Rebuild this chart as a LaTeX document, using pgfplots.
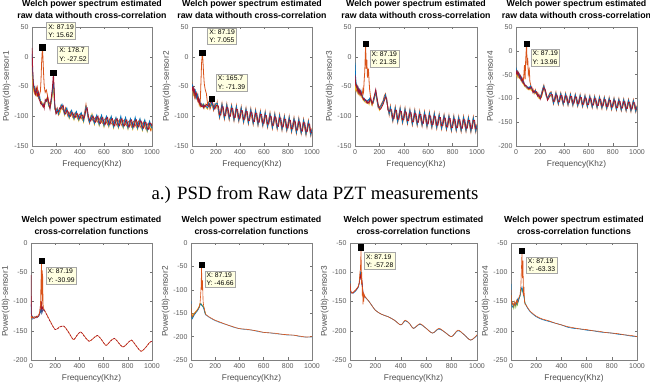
\documentclass[border=0pt]{standalone}
\usepackage{fontspec}
\setmainfont{Liberation Sans}
\newfontfamily\seriffont{Liberation Serif}
\usepackage{pgfplots}
\usepackage{pgfplotstable}
\pgfplotsset{compat=1.18}
\definecolor{mblue}{HTML}{0072BD}
\definecolor{morange}{HTML}{D95319}
\definecolor{myellow}{HTML}{EDB120}
\definecolor{mpurple}{HTML}{7E2F8E}
\definecolor{mgreen}{HTML}{77AC30}
\definecolor{mcyan}{HTML}{4DBEEE}
\definecolor{mdred}{HTML}{A2142F}
\definecolor{tipfill}{RGB}{255,255,225}
\tikzset{tip/.style={draw=black!35, fill=tipfill, font=\fontsize{6.8}{8.2}\selectfont, align=left, inner sep=1.8pt, anchor=north west},
 dmark/.style={only marks, mark=square*, mark size=2.6pt, black}}
\pgfplotsset{
 mat/.style={scale only axis, xmin=0, xmax=1000, xtick={0,200,...,1000},
  tick align=inside, major tick length=2.5pt,
  axis line style={black!50, line width=0.5pt}, tick style={black!55, line width=0.4pt},
  every tick label/.append style={font=\fontsize{7}{8}\selectfont, text=black!65},
  xlabel={Frequency(Khz)},
  label style={font=\fontsize{8.3}{9}\selectfont, text=black!70},
  xlabel style={yshift=1pt}, ylabel style={yshift=-3pt},
  title style={font=\bfseries\fontsize{8.8}{12}\selectfont, align=center, text=black, yshift=-1pt},
  /pgf/number format/assume math mode=true, /pgf/number format/set thousands separator={}, scaled ticks=false,
  clip mode=individual, every axis plot/.append style={line width=0.6pt}},
 toprow/.style={every axis plot/.append style={line width=0.8pt}},
}
\pgfplotstableread{
x b r o y
0 5 15 -5 -20
5 -25 -15 -30 -40
10 -40 -42 -48 -50
15 -48 -52 -55 -58
20 -52 -56 -60 -62
25 -58 -62 -54 -60
30 -60 -64 -60 -55
35 -55 -52 -58 -64
40 -58 -56 -62 -66
45 -62 -66 -52 -60
50 -60 -64 -58 -62
55 -66 -60 -64 -70
60 -70 -72 -66 -68
65 -68 -74 -62 -72
70 -75 -78 -58 -72
75 -78 -76 -40 -80
80 -78 -80 -10 -76
87.19 -80 -82 15.62 -78
92 -82 -84 -5 -80
97 -84 -80 -30 -83
102 -82 -86 -50 -84
110 -76 -72 -60 -78
120 -72 -75 -56 -70
130 -72 -68 -66 -74
140 -82 -78 -76 -84
150 -86 -88 -80 -86
160 -75 -70 -72 -78
170 -58 -52 -60 -64
178.7 -40 -27.52 -45 -50
185 -62 -56 -66 -70
190 -86 -80 -88 -86
200 -94 -96 -90 -95
210 -88 -92 -86 -94
220 -96 -92 -98 -90
230 -90 -86 -94 -96
240 -84 -88 -82 -90
250 -80 -84 -86 -82
260 -88 -82 -90 -86
270 -96 -94 -92 -98
280 -90 -96 -86 -92
290 -86 -90 -94 -88
300 -96 -92 -100 -94
310 -102 -98 -96 -104
320 -94 -100 -92 -98
330 -90 -94 -98 -92
340 -98 -94 -102 -100
350 -104 -100 -98 -106
360 -96 -102 -94 -100
370 -92 -96 -100 -94
380 -100 -96 -104 -102
390 -106 -102 -98 -108
400 -98 -104 -96 -102
410 -94 -98 -102 -96
420 -102 -98 -106 -104
430 -108 -104 -100 -110
440 -96 -100 -92 -98
450 -84 -88 -80 -86
460 -92 -86 -94 -90
470 -104 -100 -106 -102
480 -110 -106 -112 -108
490 -102 -108 -100 -106
500 -98 -102 -104 -96
510 -106 -100 -108 -104
520 -112 -108 -104 -114
530 -104 -110 -102 -106
540 -98 -102 -108 -100
550 -106 -100 -110 -108
560 -114 -110 -106 -116
570 -104 -112 -102 -108
580 -98 -104 -110 -100
590 -108 -102 -112 -110
600 -116 -112 -106 -118
610 -106 -114 -104 -110
620 -100 -104 -110 -102
630 -108 -102 -114 -110
640 -116 -112 -108 -118
650 -106 -114 -104 -110
660 -100 -106 -112 -102
670 -110 -104 -114 -112
680 -118 -114 -108 -120
690 -108 -116 -106 -112
700 -102 -106 -112 -104
710 -110 -104 -116 -112
720 -118 -114 -108 -120
730 -108 -116 -106 -112
740 -100 -106 -112 -104
750 -110 -104 -116 -112
760 -118 -114 -108 -120
770 -108 -116 -106 -112
780 -102 -108 -114 -104
790 -112 -106 -116 -114
800 -120 -116 -110 -122
810 -110 -118 -108 -114
820 -104 -108 -114 -106
830 -112 -106 -118 -114
840 -120 -116 -110 -122
850 -110 -118 -108 -114
860 -102 -108 -114 -106
870 -112 -106 -118 -114
880 -120 -116 -110 -122
890 -110 -118 -108 -114
900 -104 -108 -116 -106
910 -114 -108 -120 -116
920 -122 -118 -112 -124
930 -112 -120 -110 -116
940 -106 -110 -118 -108
950 -116 -110 -122 -118
960 -124 -120 -114 -126
970 -114 -122 -112 -118
980 -108 -112 -120 -110
990 -116 -112 -124 -118
1000 -120 -116 -112 -124
}\tA
\pgfplotstableread{
x b r o y
0 -45 -50 -55 -60
5 -50 -56 -48 -58
10 -58 -52 -62 -56
15 -54 -60 -56 -64
20 -60 -56 -66 -62
25 -64 -68 -60 -66
30 -58 -62 -68 -64
35 -66 -60 -64 -70
40 -70 -66 -62 -68
45 -64 -70 -72 -66
50 -68 -74 -66 -72
55 -74 -70 -76 -70
60 -72 -78 -74 -80
65 -78 -74 -80 -76
70 -80 -82 -70 -84
75 -78 -80 -40 -82
80 -80 -84 -10 -82
87.19 -82 -84 7.055 -80
92 -84 -82 -10 -84
97 -80 -86 -30 -82
102 -84 -82 -45 -86
110 -82 -84 -55 -80
120 -84 -80 -62 -86
130 -86 -82 -80 -88
140 -78 -84 -76 -80
150 -84 -78 -88 -82
160 -80 -76 -82 -78
165.7 -74 -71.39 -76 -78
170 -80 -76 -82 -84
180 -88 -84 -90 -86
190 -82 -88 -80 -84
200 -78 -82 -86 -80
210 -78 -82 -76 -84
220 -89 -83 -93 -87
230 -101 -97 -103 -99
240 -92 -98 -90 -96
250 -80 -84 -78 -86
260 -90 -84 -94 -88
270 -103 -99 -105 -101
280 -93 -99 -91 -97
290 -81 -85 -79 -87
300 -92 -86 -96 -90
310 -104 -100 -106 -102
320 -94 -100 -92 -98
330 -83 -87 -81 -89
340 -93 -87 -97 -91
350 -106 -102 -108 -104
360 -96 -102 -94 -100
370 -84 -88 -82 -90
380 -95 -89 -99 -93
390 -107 -103 -109 -105
400 -98 -104 -96 -102
410 -86 -90 -84 -92
420 -97 -91 -101 -95
430 -109 -105 -111 -107
440 -99 -105 -97 -103
450 -88 -92 -86 -94
460 -98 -92 -102 -96
470 -111 -107 -113 -109
480 -101 -107 -99 -105
490 -89 -93 -87 -95
500 -100 -94 -104 -98
510 -112 -108 -114 -110
520 -103 -109 -101 -107
530 -91 -95 -89 -97
540 -101 -95 -105 -99
550 -114 -110 -116 -112
560 -104 -110 -102 -108
570 -93 -97 -91 -99
580 -103 -97 -107 -101
590 -115 -111 -117 -113
600 -106 -112 -104 -110
610 -94 -98 -92 -100
620 -105 -99 -109 -103
630 -117 -113 -119 -115
640 -107 -113 -105 -111
650 -96 -100 -94 -102
660 -106 -100 -110 -104
670 -119 -115 -121 -117
680 -109 -115 -107 -113
690 -97 -101 -95 -103
700 -108 -102 -112 -106
710 -120 -116 -122 -118
720 -111 -117 -109 -115
730 -99 -103 -97 -105
740 -109 -103 -113 -107
750 -122 -118 -124 -120
760 -112 -118 -110 -116
770 -101 -105 -99 -107
780 -111 -105 -115 -109
790 -123 -119 -125 -121
800 -114 -120 -112 -118
810 -102 -106 -100 -108
820 -113 -107 -117 -111
830 -125 -121 -127 -123
840 -115 -121 -113 -119
850 -104 -108 -102 -110
860 -114 -108 -118 -112
870 -127 -123 -129 -125
880 -117 -123 -115 -121
890 -105 -109 -103 -111
900 -116 -110 -120 -114
910 -128 -124 -130 -126
920 -119 -125 -117 -123
930 -107 -111 -105 -113
940 -117 -111 -121 -115
950 -130 -126 -132 -128
960 -120 -126 -118 -124
970 -109 -113 -107 -115
980 -119 -113 -123 -117
990 -131 -127 -133 -129
1000 -122 -128 -120 -126
}\tB
\pgfplotstableread{
x b r o y
0 -10 -30 -40 -50
5 -35 -45 -50 -55
10 -45 -50 -55 -48
15 -52 -48 -58 -54
20 -50 -56 -52 -60
25 -58 -52 -60 -56
30 -54 -60 -56 -62
35 -60 -56 -62 -58
40 -56 -62 -58 -64
45 -62 -58 -64 -60
50 -58 -64 -60 -66
55 -64 -62 -66 -62
60 -66 -68 -62 -70
65 -68 -70 -55 -72
70 -70 -72 -60 -74
75 -72 -70 -40 -74
80 -74 -72 -25 -76
87.19 -72 -74 21.35 -76
92 -74 -76 -20 -78
97 -76 -74 -5 -78
102 -74 -78 -35 -76
110 -72 -76 -20 -78
115 -74 -78 -40 -80
120 -70 -74 -55 -72
130 -74 -70 -72 -76
140 -78 -80 -76 -82
150 -76 -72 -78 -74
160 -68 -64 -66 -70
170 -58 -55 -62 -60
180 -72 -68 -74 -70
190 -84 -80 -86 -82
200 -86 -88 -84 -90
210 -84 -88 -82 -86
220 -80 -84 -78 -82
230 -76 -80 -74 -78
240 -70 -74 -66 -72
250 -64 -68 -62 -70
260 -74 -70 -76 -72
270 -86 -90 -84 -88
280 -96 -92 -98 -94
290 -85 -89 -83 -91
300 -95 -89 -99 -93
310 -107 -103 -109 -105
320 -98 -104 -96 -102
330 -86 -90 -84 -92
340 -96 -90 -100 -94
350 -109 -105 -111 -107
360 -99 -105 -97 -103
370 -87 -91 -85 -93
380 -98 -92 -102 -96
390 -110 -106 -112 -108
400 -100 -106 -98 -104
410 -88 -92 -86 -94
420 -99 -93 -103 -97
430 -111 -107 -113 -109
440 -101 -107 -99 -105
450 -90 -94 -88 -96
460 -100 -94 -104 -98
470 -113 -109 -115 -111
480 -103 -109 -101 -107
490 -91 -95 -89 -97
500 -102 -96 -106 -100
510 -114 -110 -116 -112
520 -104 -110 -102 -108
530 -93 -97 -91 -99
540 -103 -97 -107 -101
550 -115 -111 -117 -113
560 -106 -112 -104 -110
570 -94 -98 -92 -100
580 -104 -98 -108 -102
590 -117 -113 -119 -115
600 -107 -113 -105 -111
610 -95 -99 -93 -101
620 -106 -100 -110 -104
630 -118 -114 -120 -116
640 -108 -114 -106 -112
650 -96 -100 -94 -102
660 -107 -101 -111 -105
670 -119 -115 -121 -117
680 -109 -115 -107 -113
690 -98 -102 -96 -104
700 -108 -102 -112 -106
710 -120 -116 -122 -118
720 -110 -116 -108 -114
730 -99 -103 -97 -105
740 -109 -103 -113 -107
750 -121 -117 -123 -119
760 -112 -118 -110 -116
770 -100 -104 -98 -106
780 -110 -104 -114 -108
790 -123 -119 -125 -121
800 -113 -119 -111 -117
810 -101 -105 -99 -107
820 -111 -105 -115 -109
830 -123 -119 -125 -121
840 -113 -119 -111 -117
850 -102 -106 -100 -108
860 -112 -106 -116 -110
870 -124 -120 -126 -122
880 -114 -120 -112 -118
890 -102 -106 -100 -108
900 -112 -106 -116 -110
910 -124 -120 -126 -122
920 -114 -120 -112 -118
930 -103 -107 -101 -109
940 -113 -107 -117 -111
950 -125 -121 -127 -123
960 -115 -121 -113 -119
970 -103 -107 -101 -109
980 -113 -107 -117 -111
990 -125 -121 -127 -123
1000 -115 -121 -113 -119
}\tC
\pgfplotstableread{
x b r o y
0 -35 -40 -45 -50
5 -42 -48 -40 -52
10 -48 -44 -52 -46
15 -44 -50 -46 -54
20 -50 -46 -54 -48
25 -54 -50 -48 -56
30 -50 -56 -52 -58
35 -56 -52 -58 -54
40 -60 -56 -54 -62
45 -56 -62 -58 -60
50 -62 -58 -64 -66
55 -66 -64 -60 -68
60 -64 -68 -66 -70
65 -68 -66 -50 -72
70 -70 -72 -30 -74
75 -72 -74 -60 -76
80 -74 -72 -20 -76
87.19 -76 -74 13.96 -78
92 -78 -76 -30 -80
97 -76 -78 -15 -80
102 -78 -80 -50 -82
110 -76 -78 -40 -80
115 -78 -80 -65 -82
120 -74 -78 -70 -76
130 -80 -76 -82 -84
140 -84 -88 -80 -86
150 -88 -84 -90 -86
160 -84 -88 -82 -90
170 -90 -86 -92 -88
180 -92 -96 -88 -94
190 -96 -92 -98 -100
200 -98 -102 -96 -100
210 -92 -96 -90 -98
220 -82 -86 -80 -88
230 -74 -78 -72 -80
240 -84 -80 -86 -82
250 -94 -90 -96 -92
260 -100 -104 -98 -102
270 -96 -100 -94 -98
280 -90 -94 -88 -96
290 -88 -92 -86 -94
300 -98 -92 -102 -96
310 -110 -106 -112 -108
320 -100 -106 -98 -104
330 -89 -93 -87 -95
340 -99 -93 -103 -97
350 -111 -107 -113 -109
360 -101 -107 -99 -105
370 -90 -94 -88 -96
380 -100 -94 -104 -98
390 -112 -108 -114 -110
400 -102 -108 -100 -106
410 -91 -95 -89 -97
420 -101 -95 -105 -99
430 -113 -109 -115 -111
440 -103 -109 -101 -107
450 -92 -96 -90 -98
460 -102 -96 -106 -100
470 -114 -110 -116 -112
480 -104 -110 -102 -108
490 -93 -97 -91 -99
500 -103 -97 -107 -101
510 -115 -111 -117 -113
520 -105 -111 -103 -109
530 -94 -98 -92 -100
540 -104 -98 -108 -102
550 -116 -112 -118 -114
560 -106 -112 -104 -110
570 -95 -99 -93 -101
580 -105 -99 -109 -103
590 -117 -113 -119 -115
600 -107 -113 -105 -111
610 -96 -100 -94 -102
620 -106 -100 -110 -104
630 -118 -114 -120 -116
640 -108 -114 -106 -112
650 -97 -101 -95 -103
660 -107 -101 -111 -105
670 -119 -115 -121 -117
680 -109 -115 -107 -113
690 -98 -102 -96 -104
700 -108 -102 -112 -106
710 -120 -116 -122 -118
720 -110 -116 -108 -114
730 -99 -103 -97 -105
740 -109 -103 -113 -107
750 -121 -117 -123 -119
760 -111 -117 -109 -115
770 -100 -104 -98 -106
780 -110 -104 -114 -108
790 -122 -118 -124 -120
800 -112 -118 -110 -116
810 -101 -105 -99 -107
820 -111 -105 -115 -109
830 -123 -119 -125 -121
840 -113 -119 -111 -117
850 -102 -106 -100 -108
860 -112 -106 -116 -110
870 -124 -120 -126 -122
880 -114 -120 -112 -118
890 -103 -107 -101 -109
900 -113 -107 -117 -111
910 -125 -121 -127 -123
920 -115 -121 -113 -119
930 -104 -108 -102 -110
940 -114 -108 -118 -112
950 -126 -122 -128 -124
960 -116 -122 -114 -120
970 -105 -109 -103 -111
980 -115 -109 -119 -113
990 -127 -123 -129 -125
1000 -117 -123 -115 -121
}\tD
\pgfplotstableread{
x o r b
0 -125 -55 -105
3 -128 -120 -125
8 -126 -128 -124
15 -128 -126 -130
25 -127 -129 -126
35 -126 -128 -127
45 -127 -125 -128
55 -125 -127 -126
65 -122 -124 -125
72 -118 -120 -122
78 -108 -105 -115
82 -70 -110 -118
87.19 -30.99 -100 -110
90 -110 -118 -120
93 -80 -115 -118
96 -47 -110 -116
100 -105 -112 -114
105 -112 -114 -115
110 -114 -116 -116
}\tEl
\pgfplotstableread{
x o r
110 -114 -115
130 -122 -123
160 -134 -135
200 -148 -148
230 -144 -145
270 -142 -142
310 -152 -153
350 -165 -165
380 -158 -158
410 -152 -152
445 -160 -161
480 -168 -168
515 -163 -163
550 -158 -158
585 -166 -166
620 -175 -175
655 -168 -168
690 -163 -163
725 -171 -171
760 -178 -178
795 -172 -172
830 -166 -166
870 -176 -176
910 -185 -185
950 -178 -178
980 -170 -170
1000 -168 -168
}\tEt
\pgfplotstableread{
x o b g y
0 -130 -125 -135 -140
3 -150 -152 -148 -146
6 -155 -158 -153 -150
10 -158 -162 -160 -155
15 -156 -160 -158 -154
20 -154 -157 -155 -152
30 -150 -153 -151 -149
40 -147 -149 -148 -146
50 -144 -146 -145 -143
60 -140 -142 -141 -139
70 -135 -137 -136 -134
75 -128 -132 -130 -129
80 -110 -130 -131 -130
84 -90 -131 -130 -132
87.19 -46.66 -132 -133 -131
91 -100 -134 -133 -132
95 -80 -135 -134 -133
100 -125 -137 -136 -135
105 -135 -140 -138 -137
110 -140 -145 -142 -142
120 -152 -154 -153 -152
}\tFl
\pgfplotstableread{
x o r
120 -152 -153
150 -158 -159
200 -165 -166
250 -170 -171
300 -175 -175
350 -179 -180
400 -183 -183
450 -184 -185
500 -186 -186
550 -188 -189
600 -191 -191
650 -192 -192
700 -193 -194
750 -195 -195
800 -196 -197
850 -197 -197
900 -199 -200
950 -201 -201
1000 -200 -201
}\tFt
\pgfplotstableread{
x o b r
0 -118 -115 -120
3 -130 -132 -128
8 -133 -135 -134
15 -135 -134 -136
25 -134 -136 -135
35 -133 -134 -132
45 -130 -132 -131
55 -127 -129 -128
65 -124 -126 -125
72 -118 -120 -119
78 -100 -110 -112
82 -95 -100 -105
87.19 -57.28 -105 -110
90 -120 -118 -115
93 -100 -115 -112
96 -140 -120 -118
99 -125 -128 -126
102 -155 -135 -132
105 -135 -138 -136
108 -150 -140 -140
112 -138 -142 -141
120 -142 -143 -143
}\tGl
\pgfplotstableread{
x o b
120 -142 -143
150 -150 -150
200 -165 -165
250 -172 -172
300 -176 -176
350 -182 -182
400 -190 -190
435 -182 -183
470 -188 -188
500 -196 -196
550 -188 -189
600 -196 -196
650 -204 -204
700 -196 -197
750 -203 -203
800 -210 -210
850 -199 -200
900 -207 -207
950 -216 -216
1000 -207 -208
}\tGt
\pgfplotstableread{
x o b g
0 -130 -120 -135
3 -148 -150 -145
8 -155 -158 -152
15 -152 -160 -156
22 -158 -154 -162
30 -150 -156 -152
38 -156 -152 -160
45 -148 -155 -150
52 -152 -146 -156
58 -146 -150 -148
65 -142 -145 -144
72 -138 -140 -141
78 -125 -132 -134
82 -100 -128 -130
87.19 -63.33 -125 -128
91 -110 -130 -132
95 -80 -135 -134
99 -140 -140 -138
103 -125 -142 -140
107 -150 -148 -146
112 -155 -154 -153
120 -156 -156 -157
}\tHl
\pgfplotstableread{
x o b
120 -156 -157
150 -166 -167
200 -175 -176
250 -180 -181
300 -183 -184
350 -187 -187
400 -190 -190
450 -193 -194
500 -195 -196
550 -197 -197
600 -198 -199
650 -200 -200
700 -201 -202
750 -203 -203
800 -204 -204
850 -205 -206
900 -207 -207
950 -208 -209
1000 -210 -210
}\tHt
\begin{document}
\begin{tikzpicture}
\useasboundingbox (0pt,0pt) rectangle (650pt,382pt);
% ---------- top row ----------
\begin{axis}[mat, toprow, at={(32pt,236pt)}, anchor=south west, width=120pt, height=119pt,
  ymin=-150, ymax=50, ytick={-150,-100,...,50}, ylabel={Power(db)-sensor1},
  title={Welch power spectrum estimated\\raw data withouth cross-correlation}]
\addplot[morange] table[x=x,y=o]{\tA};
\addplot[myellow] table[x=x,y=y]{\tA};
\addplot[mblue] table[x=x,y=b]{\tA};
\addplot[mdred] table[x=x,y=r]{\tA};
\addplot[dmark] coordinates {(87.19,15.62) (178.7,-27.52)};
\node[tip, xshift=4pt, yshift=25pt] at (axis cs:87.19,15.62) {X: 87.19\\Y: 15.62};
\node[tip, xshift=4pt, yshift=27pt] at (axis cs:178.7,-27.52) {X: 178.7\\Y: -27.52};
\end{axis}
\begin{axis}[mat, toprow, at={(192pt,236pt)}, anchor=south west, width=120pt, height=119pt,
  ymin=-150, ymax=50, ytick={-150,-100,...,50}, ylabel={Power(db)-sensor2},
  title={Welch power spectrum estimated\\raw data withouth cross-correlation}]
\addplot[morange] table[x=x,y=o]{\tB};
\addplot[myellow] table[x=x,y=y]{\tB};
\addplot[mblue] table[x=x,y=b]{\tB};
\addplot[mdred] table[x=x,y=r]{\tB};
\addplot[dmark] coordinates {(87.19,7.055) (165.7,-71.39)};
\node[tip, xshift=5pt, yshift=25pt] at (axis cs:87.19,7.055) {X: 87.19\\Y: 7.055};
\node[tip, xshift=4pt, yshift=25pt] at (axis cs:165.7,-71.39) {X: 165.7\\Y: -71.39};
\end{axis}
\begin{axis}[mat, toprow, at={(355pt,236pt)}, anchor=south west, width=122pt, height=119pt,
  ymin=-150, ymax=50, ytick={-150,-100,...,50}, ylabel={Power(db)-sensor3},
  title={Welch power spectrum estimated\\raw data withouth cross-correlation}]
\addplot[morange] table[x=x,y=o]{\tC};
\addplot[myellow] table[x=x,y=y]{\tC};
\addplot[mblue] table[x=x,y=b]{\tC};
\addplot[mdred] table[x=x,y=r]{\tC};
\addplot[dmark] coordinates {(87.19,21.35)};
\node[tip, xshift=4pt, yshift=-6pt] at (axis cs:87.19,21.35) {X: 87.19\\Y: 21.35};
\end{axis}
\begin{axis}[mat, toprow, at={(516pt,236pt)}, anchor=south west, width=121pt, height=119pt,
  ymin=-200, ymax=50, ytick={-200,-150,...,50}, ylabel={Power(db)-sensor4},
  title={Welch power spectrum estimated\\raw data withouth cross-correlation}]
\addplot[morange] table[x=x,y=o]{\tD};
\addplot[myellow] table[x=x,y=y]{\tD};
\addplot[mblue] table[x=x,y=b]{\tD};
\addplot[mdred] table[x=x,y=r]{\tD};
\addplot[dmark] coordinates {(87.19,13.96)};
\node[tip, xshift=4pt, yshift=-5pt] at (axis cs:87.19,13.96) {X: 87.19\\Y: 13.96};
\end{axis}
\node[font=\seriffont\fontsize{18.8}{22}\selectfont, anchor=base] at (315pt,182pt) {a.) PSD from Raw data PZT measurements};
% ---------- bottom row ----------
\begin{axis}[mat, at={(31pt,22pt)}, anchor=south west, width=121pt, height=117pt,
  ymin=-200, ymax=0, ytick={-200,-150,...,0}, ylabel={Power(db)-sensor1},
  title={Welch power spectrum estimated\\cross-correlation functions}]
\addplot[mblue] table[x=x,y=b]{\tEl};
\addplot[mdred] table[x=x,y=r]{\tEl};
\addplot[morange] table[x=x,y=o]{\tEl};
\addplot[morange, smooth] table[x=x,y=o]{\tEt};
\addplot[mdred, smooth, dash pattern=on 2pt off 1.5pt] table[x=x,y=r]{\tEt};
\addplot[dmark] coordinates {(87.19,-30.99)};
\node[tip, xshift=4pt, yshift=-6pt] at (axis cs:87.19,-30.99) {X: 87.19\\Y: -30.99};
\end{axis}
\begin{axis}[mat, at={(191pt,22pt)}, anchor=south west, width=121pt, height=117pt,
  ymin=-250, ymax=0, ytick={-250,-200,...,0}, ylabel={Power(db)-sensor2},
  title={Welch power spectrum estimated\\cross-correlation functions}]
\addplot[myellow] table[x=x,y=y]{\tFl};
\addplot[mgreen] table[x=x,y=g]{\tFl};
\addplot[mblue] table[x=x,y=b]{\tFl};
\addplot[morange] table[x=x,y=o]{\tFl};
\addplot[mblue!70, smooth] table[x=x,y=r]{\tFt};
\addplot[morange, smooth] table[x=x,y=o]{\tFt};
\addplot[dmark] coordinates {(87.19,-46.66)};
\node[tip, xshift=3pt, yshift=-6pt] at (axis cs:87.19,-46.66) {X: 87.19\\Y: -46.66};
\end{axis}
\begin{axis}[mat, at={(350pt,22pt)}, anchor=south west, width=127pt, height=117pt,
  ymin=-250, ymax=-50, ytick={-250,-200,...,-50}, ylabel={Power(db)-sensor3},
  title={Welch power spectrum estimated\\cross-correlation functions}]
\addplot[mblue] table[x=x,y=b]{\tGl};
\addplot[mdred] table[x=x,y=r]{\tGl};
\addplot[morange] table[x=x,y=o]{\tGl};
\addplot[mblue, smooth] table[x=x,y=b]{\tGt};
\addplot[morange, smooth] table[x=x,y=o]{\tGt};
\addplot[dmark] coordinates {(87.19,-57.28)};
\node[tip, xshift=3pt, yshift=-5pt] at (axis cs:87.19,-57.28) {X: 87.19\\Y: -57.28};
\end{axis}
\begin{axis}[mat, at={(511pt,22pt)}, anchor=south west, width=126pt, height=117pt,
  ymin=-250, ymax=-50, ytick={-250,-200,...,-50}, ylabel={Power(db)-sensor4},
  title={Welch power spectrum estimated\\cross-correlation functions}]
\addplot[mgreen] table[x=x,y=g]{\tHl};
\addplot[mblue] table[x=x,y=b]{\tHl};
\addplot[morange] table[x=x,y=o]{\tHl};
\addplot[mblue, smooth] table[x=x,y=b]{\tHt};
\addplot[morange, smooth] table[x=x,y=o]{\tHt};
\addplot[dmark] coordinates {(87.19,-63.33)};
\node[tip, xshift=4pt, yshift=-6pt] at (axis cs:87.19,-63.33) {X: 87.19\\Y: -63.33};
\end{axis}
\end{tikzpicture}
\end{document}
